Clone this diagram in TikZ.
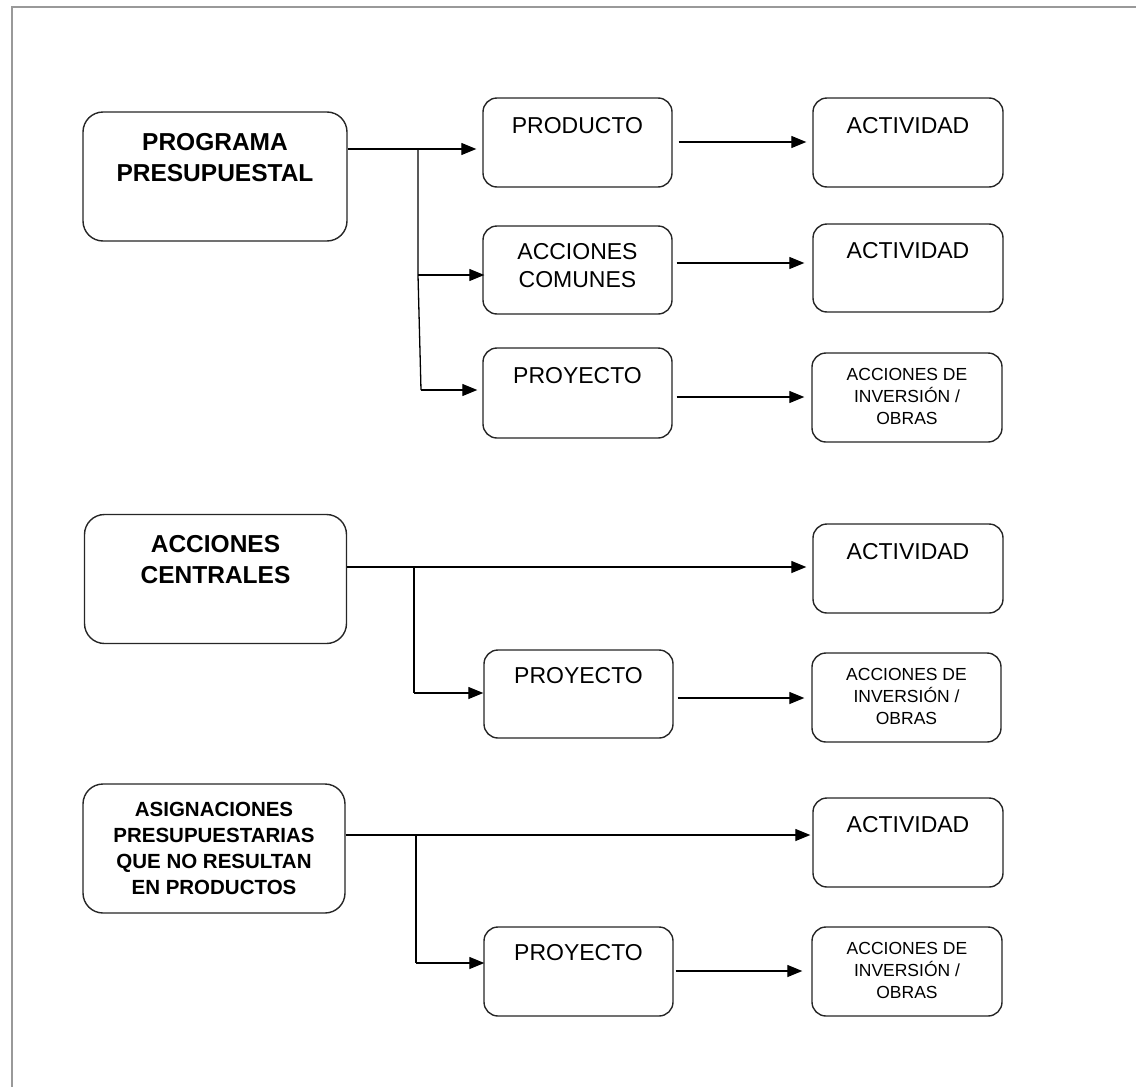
\documentclass[tikz,border=0pt]{standalone}
\usepackage{fontspec}
\setmainfont{Liberation Sans}
\usetikzlibrary{arrows.meta,calc}
\tikzset{
  box/.style={draw=black!85, line width=1.4pt, rounded corners=14pt, inner sep=0pt, fill=white},
  bigbox/.style={box, rounded corners=20pt},
  lbl/.style={align=center, inner sep=0pt, font=\fontsize{23}{28}\selectfont},
  blbl/.style={align=center, inner sep=0pt, font=\fontsize{24.5}{31}\selectfont\bfseries},
  slbl/.style={align=center, inner sep=0pt, font=\fontsize{17.5}{22}\selectfont},
  albl/.style={align=center, inner sep=0pt, font=\fontsize{20.5}{26}\selectfont\bfseries},
  conn/.style={line width=1.3pt, black},
  thickconn/.style={line width=2.8pt, black},
  arr/.style={conn, -{Triangle[length=15pt,width=12pt]}},
  frame/.style={draw=black!40, line width=1.8pt}
}
\begin{document}
\begin{tikzpicture}[x=1pt,y=-1pt]
\useasboundingbox (0,0) rectangle (1136,1087);
\draw[frame] (1136,7) -- (12,7) -- (12,1087);

% Group 1
\node[bigbox, minimum width=264pt, minimum height=129pt] (pp) at (215,176.5) {};
\node[blbl] (ppt) at (215,157.5) {PROGRAMA\\PRESUPUESTAL};
\node[box, minimum width=189pt, minimum height=89pt] (prod) at (577.5,142.5) {};
\node[lbl] (prodt) at (577.5,126) {PRODUCTO};
\node[box, minimum width=190pt, minimum height=89pt] (act1) at (908,142.5) {};
\node[lbl] (act1t) at (908,126) {ACTIVIDAD};
\node[box, minimum width=189pt, minimum height=88pt] (acom) at (577.5,270) {};
\node[lbl] (acomt) at (577.5,266) {ACCIONES\\COMUNES};
\node[box, minimum width=190pt, minimum height=88pt] (act2) at (908,268) {};
\node[lbl] (act2t) at (908,251) {ACTIVIDAD};
\node[box, minimum width=189pt, minimum height=90pt] (proy1) at (577.5,393) {};
\node[lbl] (proy1t) at (577.5,376) {PROYECTO};
\node[box, minimum width=190pt, minimum height=89pt] (inv1) at (907,397.5) {};
\node[slbl] (inv1t) at (907,396) {ACCIONES DE\\INVERSIÓN /\\OBRAS};

\coordinate (j1) at (418,149);
\coordinate (j2) at (418,275);
\coordinate (j3) at (421,390);
\draw[thickconn] (pp.east |- j1) -- (j1);
\draw[arr] (j1) -- ([xshift=-6pt]prod.west |- j1);
\draw[conn] (j1) -- (j2) -- (j3);
\draw[arr] (j2) -- ([xshift=2pt]acom.west |- j2);
\draw[arr] (j3) -- ([xshift=-5pt]proy1.west |- j3);

\coordinate (r1) at (0,142);
\coordinate (r2) at (0,263);
\coordinate (r3) at (0,397);
\draw[arr] ([xshift=6pt]prod.east |- r1) -- ([xshift=-6pt]act1.west |- r1);
\draw[arr] ([xshift=4pt]acom.east |- r2) -- ([xshift=-8pt]act2.west |- r2);
\draw[arr] ([xshift=4pt]proy1.east |- r3) -- ([xshift=-7pt]inv1.west |- r3);

% Group 2
\node[bigbox, minimum width=262pt, minimum height=129pt] (ac) at (215.5,579) {};
\node[blbl] (act) at (215.5,560) {ACCIONES\\CENTRALES};
\node[box, minimum width=190pt, minimum height=89pt] (act3) at (908,568.5) {};
\node[lbl] (act3t) at (908,552) {ACTIVIDAD};
\node[box, minimum width=189pt, minimum height=88pt] (proy2) at (578.5,694) {};
\node[lbl] (proy2t) at (578.5,676) {PROYECTO};
\node[box, minimum width=189pt, minimum height=89pt] (inv2) at (906.5,697.5) {};
\node[slbl] (inv2t) at (906.5,696) {ACCIONES DE\\INVERSIÓN /\\OBRAS};

\coordinate (k1) at (414,567);
\coordinate (k2) at (414,693);
\coordinate (r4) at (0,698);
\draw[thickconn] (ac.east |- k1) -- (k1);
\draw[arr] (k1) -- ([xshift=-6pt]act3.west |- k1);
\draw[conn] (k1) -- (k2);
\draw[arr] (k2) -- (proy2.west |- k2);
\draw[arr] ([xshift=4pt]proy2.east |- r4) -- ([xshift=-7pt]inv2.west |- r4);

% Group 3
\node[bigbox, minimum width=262pt, minimum height=129pt] (asg) at (214,848.5) {};
\node[albl] (asgt) at (214,848.5) {ASIGNACIONES\\PRESUPUESTARIAS\\QUE NO RESULTAN\\EN PRODUCTOS};
\node[box, minimum width=190pt, minimum height=89pt] (act4) at (908,842.5) {};
\node[lbl] (act4t) at (908,825) {ACTIVIDAD};
\node[box, minimum width=189pt, minimum height=89pt] (proy3) at (578.5,971.5) {};
\node[lbl] (proy3t) at (578.5,953) {PROYECTO};
\node[box, minimum width=190pt, minimum height=89pt] (inv3) at (907,971.5) {};
\node[slbl] (inv3t) at (907,970) {ACCIONES DE\\INVERSIÓN /\\OBRAS};

\coordinate (m1) at (416,835);
\coordinate (m2) at (416,963);
\coordinate (r5) at (0,971);
\draw[thickconn] (asg.east |- m1) -- (m1);
\draw[arr] (m1) -- ([xshift=-2pt]act4.west |- m1);
\draw[conn] (m1) -- (m2);
\draw[arr] (m2) -- ([xshift=1pt]proy3.west |- m2);
\draw[arr] ([xshift=2pt]proy3.east |- r5) -- ([xshift=-9pt]inv3.west |- r5);
\end{tikzpicture}
\end{document}
